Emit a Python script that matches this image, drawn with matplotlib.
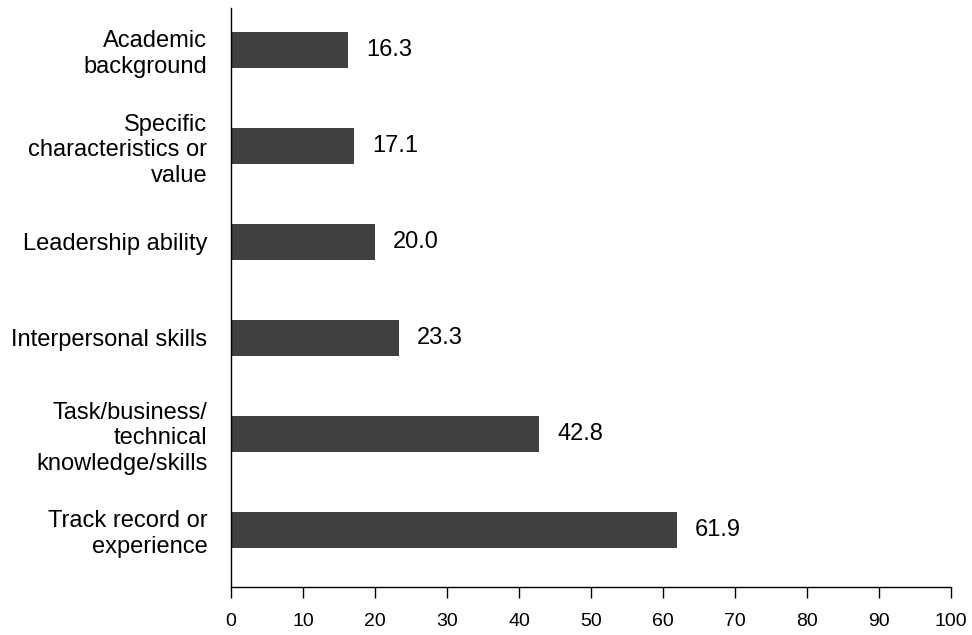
import matplotlib
matplotlib.use("Agg")
import matplotlib.pyplot as plt

categories = ["Track record or\nexperience",
              "Task/business/\ntechnical\nknowledge/skills",
              "Interpersonal skills",
              "Leadership ability",
              "Specific\ncharacteristics or\nvalue",
              "Academic\nbackground"]
values = [61.9, 42.8, 23.3, 20.0, 17.1, 16.3]
xticks = list(range(0, 101, 10))

plt.rcParams['font.family'] = ['Liberation Sans', 'DejaVu Sans']
fig = plt.figure(figsize=(9.72, 6.35), dpi=100)
ax = fig.add_axes([231/972, 1-587/635, 720/972, (587-8)/635])

ypos = list(range(len(categories)))
ax.barh(ypos, values, height=0.375, color='#404040')
for y, v in zip(ypos, values):
    ax.text(v + 2.5, y, f"{v:.1f}", va='center', ha='left', fontsize=17)

ax.set_xlim(0, 100)
ax.set_ylim(-0.594, 5.4375)
ax.set_xticks(xticks)
ax.set_xticklabels([str(t) for t in xticks], fontsize=14)
ax.set_yticks(ypos)
ax.set_yticklabels(categories, fontsize=17)
ax.tick_params(axis='y', length=0, pad=17)
ax.tick_params(axis='x', length=8, width=1, direction='out', pad=11)
for s in ['top', 'right']:
    ax.spines[s].set_visible(False)
for s in ['left', 'bottom']:
    ax.spines[s].set_linewidth(1)
    ax.spines[s].set_color('black')

fig.savefig("out.png", dpi=100)
